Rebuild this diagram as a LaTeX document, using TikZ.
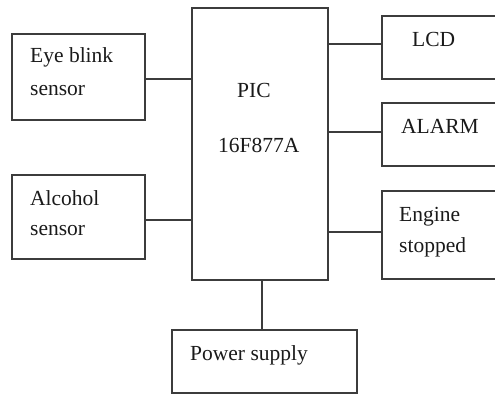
\documentclass[tikz,border=0pt]{standalone}
\usepackage{fontspec}
\setmainfont{Liberation Serif}
\usetikzlibrary{calc}
\definecolor{linegray}{HTML}{3C3C3C}
\definecolor{textdark}{HTML}{1A1A1A}
\begin{document}
\begin{tikzpicture}[x=1pt,y=-1pt,
  box/.style={draw=linegray, line width=2pt, rectangle, inner sep=0pt, fill=none},
  lbl/.style={anchor=base west, inner sep=0pt, text=textdark, font=\fontsize{21.5}{26}\selectfont},
  wire/.style={draw=linegray, line width=2pt}]
\clip (0,0) rectangle (495,396);
\fill[white] (0,0) rectangle (495,396);
% boxes
\node[box, minimum width=133pt, minimum height=86pt] (eye) at (78.5,77) {};
\node[box, minimum width=133pt, minimum height=84pt] (alc) at (78.5,217) {};
\node[box, minimum width=136pt, minimum height=272pt] (pic) at (260,144) {};
\node[box, minimum width=138pt, minimum height=63pt] (lcd) at (451,47.5) {};
\node[box, minimum width=138pt, minimum height=63pt] (alarm) at (451,134.5) {};
\node[box, minimum width=138pt, minimum height=88pt] (engine) at (451,235) {};
\node[box, minimum width=185pt, minimum height=63pt] (power) at (264.5,361.5) {};
% labels
\node[lbl] (t1) at (30,63) {Eye blink};
\node[lbl] (t2) at (30,95) {sensor};
\node[lbl] (t3) at (30,205) {Alcohol};
\node[lbl] (t4) at (30,235) {sensor};
\node[lbl] (t5) at (237,97) {PIC};
\node[lbl] (t6) at (218,152) {16F877A};
\node[lbl] (t7) at (412,47) {LCD};
\node[lbl] (t8) at (401,133) {ALARM};
\node[lbl] (t9) at (399,221) {Engine};
\node[lbl] (t10) at (399,252) {stopped};
\node[lbl] (t11) at (190,360) {Power supply};
% connectors
\draw[wire] ([yshift=-2pt]eye.east) -- ([yshift=-2pt]eye.east -| pic.west);
\draw[wire] ([yshift=-3pt]alc.east) -- ([yshift=-3pt]alc.east -| pic.west);
\draw[wire] ([yshift=3.5pt]lcd.west -| pic.east) -- ([yshift=3.5pt]lcd.west);
\draw[wire] ([yshift=2.5pt]alarm.west -| pic.east) -- ([yshift=2.5pt]alarm.west);
\draw[wire] ([yshift=3pt]engine.west -| pic.east) -- ([yshift=3pt]engine.west);
\draw[wire] ([xshift=1.5pt]pic.south) -- ([xshift=1.5pt]pic.south |- power.north);
\end{tikzpicture}
\end{document}
